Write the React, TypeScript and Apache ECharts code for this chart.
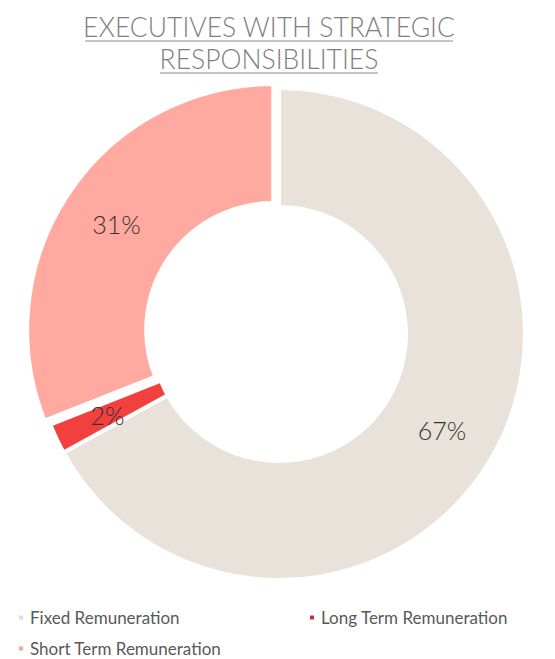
import React, { useEffect, useRef } from "react";
import * as echarts from "echarts";

const categories = ["Fixed Remuneration", "Long Term Remuneration", "Short Term Remuneration"];
const values = [67, 2, 31];
const colors = ["#E8E2DA", "#F2403E", "#FFA9A0"];
const legendIconColors = ["#DCDCDC", "#D9283A", "#F7A0A8"];
const titleLines = ["EXECUTIVES WITH STRATEGIC", "RESPONSIBILITIES"];

export default function App() {
  const ref = useRef<HTMLDivElement>(null);
  useEffect(() => {
    const chart = echarts.init(ref.current!, null, { renderer: "svg" });
    const legendBase = {
      orient: "horizontal",
      icon: "rect",
      itemWidth: 6,
      itemHeight: 6,
      itemGap: 10,
      padding: 0,
      selectedMode: false,
      textStyle: { fontFamily: "Lato", fontSize: 17, lineHeight: 17, color: "#595959", padding: [0, 0, 0, 1] },
    };
    chart.setOption({
      animation: false,
      graphic: [
        {
          type: "text",
          x: 269,
          y: 27,
          style: {
            text: titleLines[0],
            fontFamily: "Lato",
            fontWeight: 300,
            fontSize: 26.5,
            fill: "#7F7F7F",
            align: "center",
            verticalAlign: "middle",
          },
        },
        {
          type: "text",
          x: 269,
          y: 59,
          style: {
            text: titleLines[1],
            fontFamily: "Lato",
            fontWeight: 300,
            fontSize: 26.5,
            fill: "#7F7F7F",
            align: "center",
            verticalAlign: "middle",
          },
        },
        { type: "line", shape: { x1: 85, y1: 41, x2: 453, y2: 41 }, style: { stroke: "#8C8C8C", lineWidth: 1 } },
        { type: "line", shape: { x1: 160, y1: 73, x2: 378, y2: 73 }, style: { stroke: "#8C8C8C", lineWidth: 1 } },
      ],
      legend: [
        { ...legendBase, data: [{ name: categories[0], itemStyle: { color: legendIconColors[0] } }], left: 17, top: 609 },
        { ...legendBase, data: [{ name: categories[1], itemStyle: { color: legendIconColors[1] } }], left: 308, top: 609 },
        { ...legendBase, data: [{ name: categories[2], itemStyle: { color: legendIconColors[2] } }], left: 17, top: 640 },
      ],
      series: [
        {
          type: "pie",
          center: [279, 334],
          radius: [127, 246],
          startAngle: 90,
          clockwise: true,
          selectedMode: "single",
          selectedOffset: 7,
          avoidLabelOverlap: false,
          emphasis: { disabled: true },
          data: categories.map((c, i) => ({
            name: c,
            value: values[i],
            selected: i === 2,
            itemStyle: { color: colors[i] },
          })),
          itemStyle: { borderColor: "#ffffff", borderWidth: 4 },
          label: {
            show: true,
            position: "inside",
            formatter: "{c}%",
            fontFamily: "Lato",
            fontWeight: 300,
            fontSize: 25,
            color: "#333333",
          },
          labelLine: { show: false },
        },
      ],
    });
    return () => chart.dispose();
  }, []);
  return (
    <div
      ref={ref}
      style={{ position: "fixed", left: 0, top: 0, width: 555, height: 659, background: "#ffffff" }}
    />
  );
}
